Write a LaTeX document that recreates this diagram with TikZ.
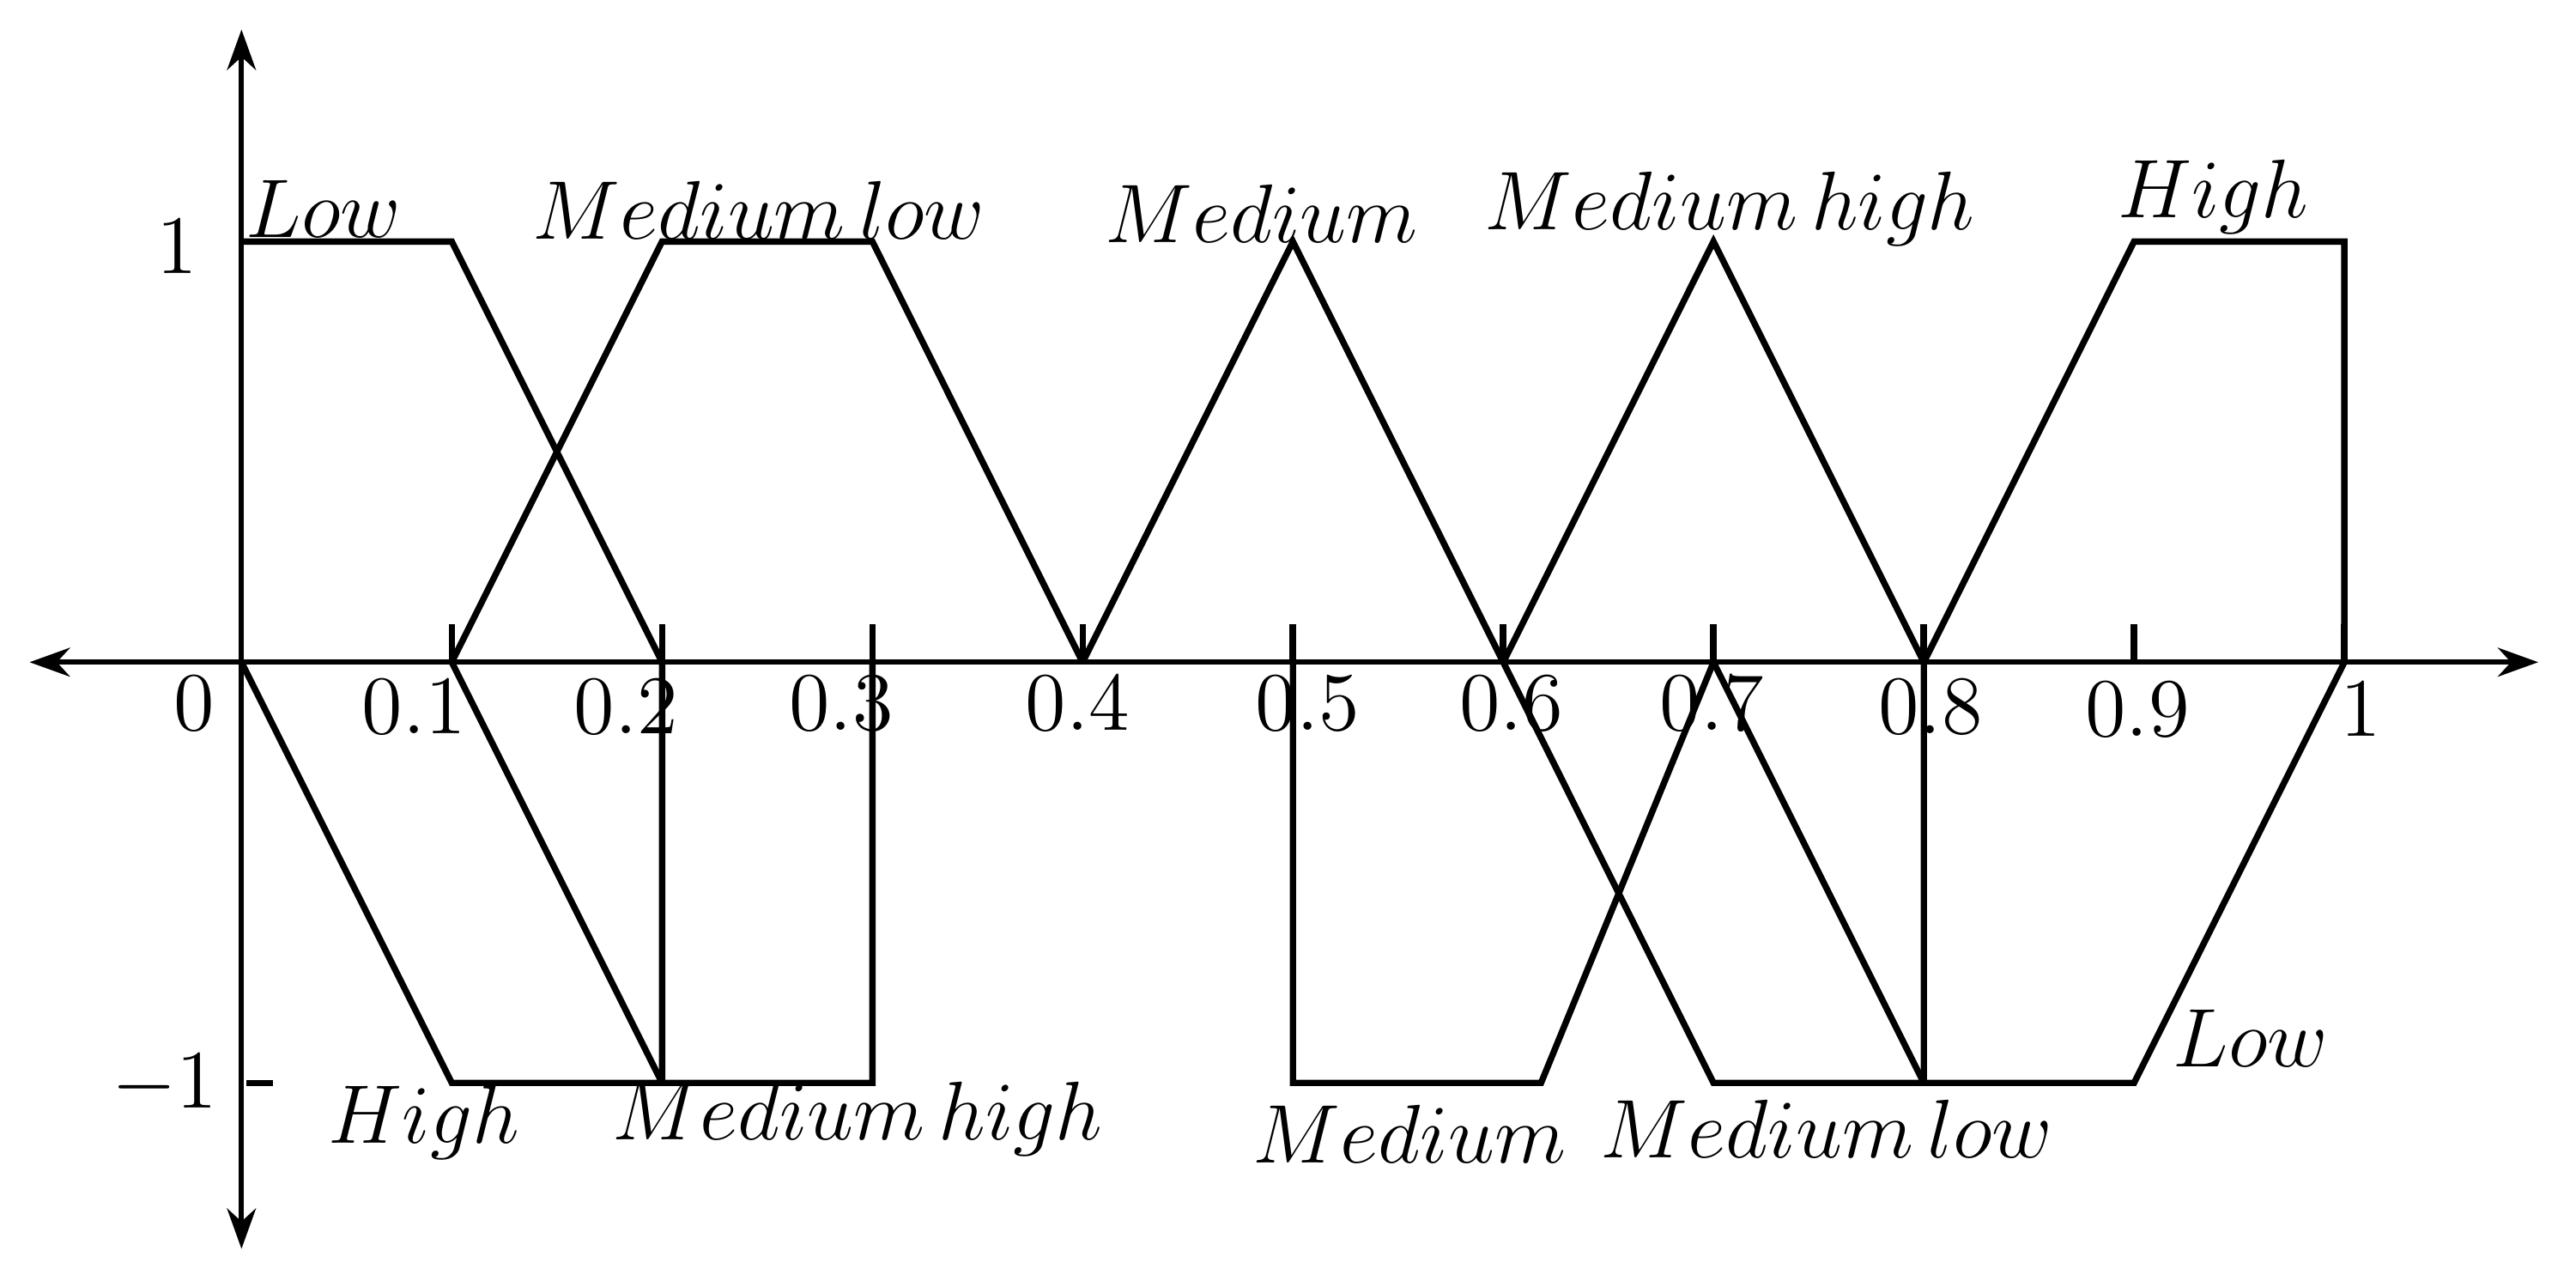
\documentclass[tikz,border=0pt]{standalone}
\usetikzlibrary{arrows.meta}
\begin{document}
\begin{tikzpicture}[x=12.8cm,y=2.56cm,line width=1.1pt,
  ax/.style={{Stealth[length=7pt,width=5pt]}-{Stealth[length=7pt,width=5pt]},line width=0.9pt},
  lbl/.style={font=\fontsize{15}{17}\selectfont},
  num/.style={font=\fontsize{15}{17}\selectfont}]
\useasboundingbox (-1.47cm,-3.80cm) rectangle (14.21cm,4.03cm);
\draw[ax] (-1.29cm,0) -- (13.98cm,0);
\draw[ax] (0,-3.57cm) -- (0,3.85cm);
\foreach \t in {0.1,0.2,...,1.0} \draw (\t,0) -- ++(0,0.23cm);
\draw (0,1) -- ++(0.13cm,0);
\draw (0.03cm,-1) -- ++(0.16cm,0);
% upper
\draw (0,1) -- (0.1,1) -- (0.2,0);
\draw (0.1,0) -- (0.2,1) -- (0.3,1) -- (0.4,0);
\draw (0.4,0) -- (0.5,1) -- (0.6,0);
\draw (0.6,0) -- (0.7,1) -- (0.8,0);
\draw (0.8,0) -- (0.9,1) -- (1,1) -- (1,0);
% lower
\draw (0,0) -- (0.1,-1) -- (0.2,-1) -- (0.2,0);
\draw (0.1,0) -- (0.2,-1) -- (0.3,-1) -- (0.3,0);
\draw (0.5,0) -- (0.5,-1) -- (0.618,-1) -- (0.7,0);
\draw (0.6,0) -- (0.7,-1) -- (0.8,-1) -- (0.8,0);
\draw (0.7,0) -- (0.8,-1);
\draw (0.8,-1) -- (0.9,-1) -- (1,0);
% labels
\node[lbl] (l1) at (0.50cm,2.76cm) {$Low$};
\node[lbl] (l2) at (3.15cm,2.75cm) {$Medium\,low$};
\node[lbl] (l3) at (6.21cm,2.73cm) {$Medium$};
\node[lbl] (l4) at (9.06cm,2.76cm) {$Medium\,high$};
\node[lbl] (l5) at (12.0cm,2.83cm) {$High$};
\node[lbl] (b1) at (1.11cm,-2.80cm) {$High$};
\node[lbl] (b2) at (3.75cm,-2.78cm) {$Medium\,high$};
\node[lbl] (b3) at (7.11cm,-2.87cm) {$Medium$};
\node[lbl] (b4) at (9.65cm,-2.84cm) {$Medium\,low$};
\node[lbl] (b5) at (12.23cm,-2.29cm) {$Low$};
\node[num] (n0) at (-0.29cm,-0.25cm) {$0$};
\node[num] (n1) at (1.05cm,-0.27cm) {$0.1$};
\node[num] (n2) at (2.34cm,-0.27cm) {$0.2$};
\node[num] (n3) at (3.65cm,-0.25cm) {$0.3$};
\node[num] (n4) at (5.09cm,-0.25cm) {$0.4$};
\node[num] (n5) at (6.49cm,-0.25cm) {$0.5$};
\node[num] (n6) at (7.73cm,-0.25cm) {$0.6$};
\node[num] (n7) at (8.95cm,-0.25cm) {$0.7$};
\node[num] (n8) at (10.28cm,-0.27cm) {$0.8$};
\node[num] (n9) at (11.54cm,-0.29cm) {$0.9$};
\node[num] (n10) at (12.9cm,-0.29cm) {$1$};
\node[num] (y1) at (-0.39cm,2.53cm) {$1$};
\node[num] (ym1) at (-0.47cm,-2.57cm) {$-1$};
\end{tikzpicture}
\end{document}
